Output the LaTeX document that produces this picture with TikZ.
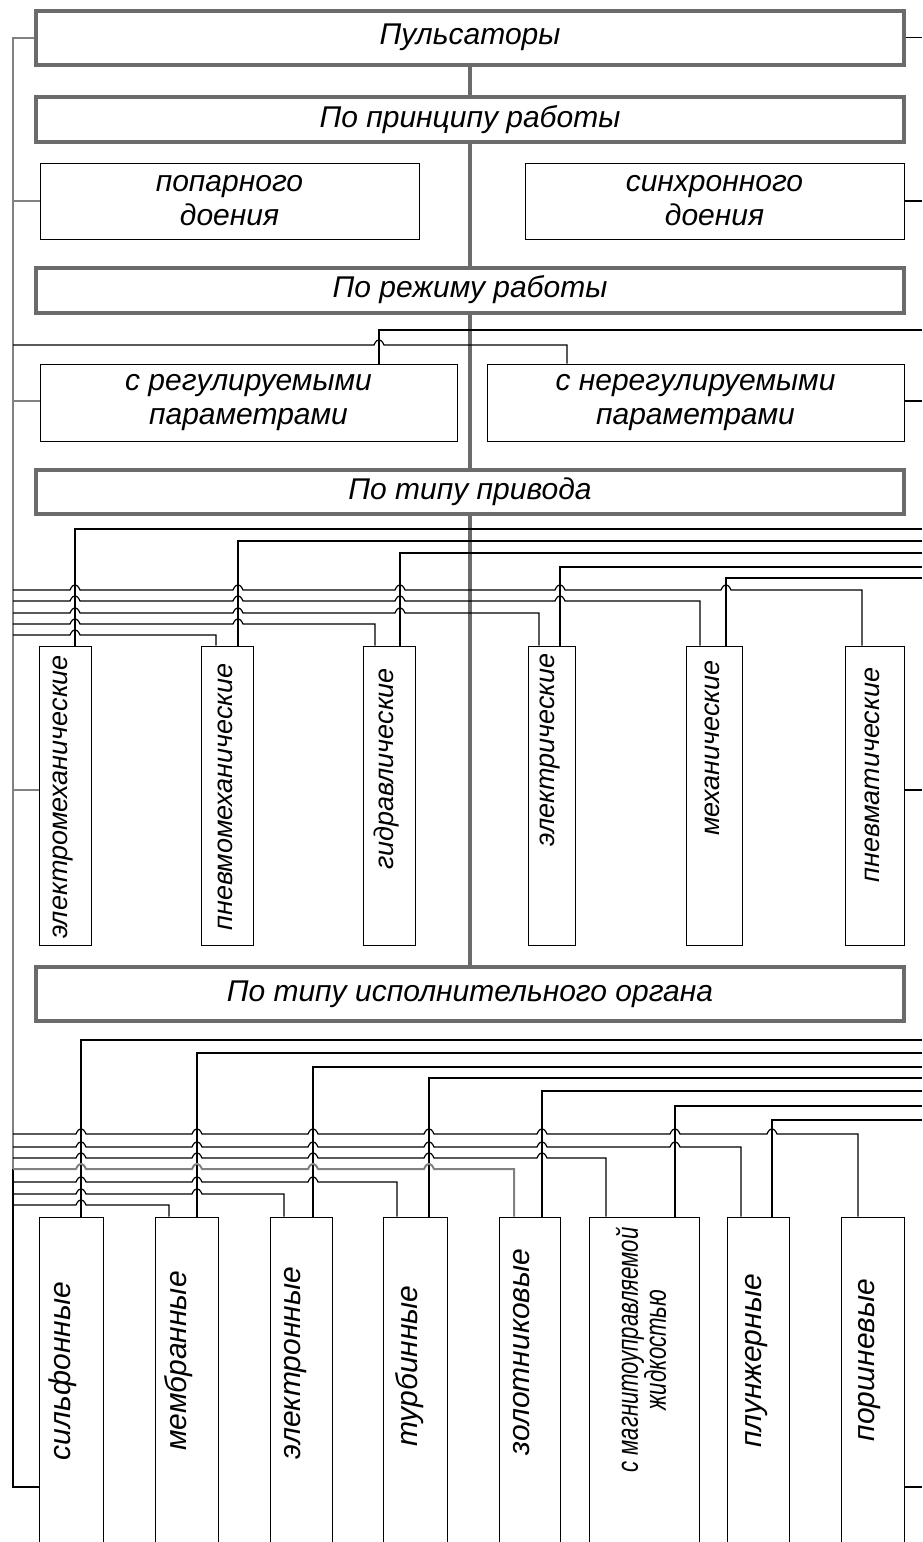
\documentclass[tikz,border=0pt]{standalone}
\usepackage{fontspec}
\setmainfont{Liberation Sans}
\newfontfamily\narrowfont{Liberation Sans}[FakeStretch=0.74]
\usepackage{tikz}

\definecolor{boxgray}{HTML}{6B6B6B}
% hop over a crossing wire: #1 = y, #2 = x of the crossings
\newcommand\hops[2]{\foreach \hx in {#2} { -- (\hx-5,#1) .. controls (\hx-2,#1-7) and (\hx+2,#1-7) .. (\hx+5,#1) }}

\begin{document}
\begin{tikzpicture}[
    x=0.5pt, y=-0.5pt,
    font=\fontsize{15pt}{17pt}\selectfont\itshape,
    head/.style={
      draw=boxgray,
      line width=2pt,
      fill=white,
      minimum width=434pt,
      inner sep=2pt
    },
    sub/.style={
      draw,
      line width=0.5pt,
      fill=white,
      align=center,
      inner sep=2pt
    },
    tall/.style={draw, line width=0.5pt, fill=white, inner sep=0pt},
    vtext/.style={rotate=90, inner sep=0pt},
    wire/.style={line width=0.6pt},
    rail/.style={draw=boxgray!85, line width=1pt},
    spine/.style={draw=boxgray, line width=2pt}
  ]
    \useasboundingbox (0,0) rectangle (922,1542);
    \clip (0,0) rectangle (922,1542);

    % headings
    \node[head, minimum height=27pt] (m1) at (470,37.5) {Пульсаторы};
    \node[head, minimum height=22.5pt] (m2) at (470,119.5) {По принципу работы};
    \node[head, minimum height=22.5pt] (m3) at (470,290) {По режиму работы};
    \node[head, minimum height=22pt] (m4) at (470,492) {По типу привода};
    \node[head, minimum height=27pt] (m5) at (470,994) {По типу исполнительного органа};

    % by principle
    \node[sub, minimum width=189.5pt, minimum height=38pt] (a1) at (229.5,201) {попарного\\доения};
    \node[sub, minimum width=189.5pt, minimum height=38pt] (a2) at (714.5,201) {синхронного\\доения};

    % by mode
    \node[sub, minimum width=208.5pt, minimum height=38.5pt] (r1) at (248.5,402.5) {с регулируемыми\\параметрами};
    \node[sub, minimum width=208.5pt, minimum height=38.5pt] (r2) at (695.5,402.5) {с нерегулируемыми\\параметрами};

    % by drive
    \node[tall, minimum width=26pt, minimum height=149.5pt] (p1) at (65,795.5) {};
    \node[tall, minimum width=26pt, minimum height=149.5pt] (p2) at (227,795.5) {};
    \node[tall, minimum width=26pt, minimum height=149.5pt] (p3) at (389,795.5) {};
    \node[tall, minimum width=23.5pt, minimum height=149.5pt] (p4) at (551.5,795.5) {};
    \node[tall, minimum width=28pt, minimum height=149.5pt] (p5) at (714,795.5) {};
    \node[tall, minimum width=29.5pt, minimum height=149.5pt] (p6) at (874.5,795.5) {};
    \begin{scope}[font=\fontsize{13.5pt}{16pt}\selectfont\itshape]
      \node[vtext] (p1t) at (63,797) {электромеханические};
      \node[vtext] (p2t) at (225,797) {пневмомеханические};
      \node[vtext] (p3t) at (387,769) {гидравлические};
      \node[vtext] (p4t) at (550,750) {электрические};
      \node[vtext] (p5t) at (712,748) {механические};
      \node[vtext] (p6t) at (872,775) {пневматические};
    \end{scope}

    % by actuator
    \node[tall, minimum width=32pt, minimum height=191.5pt] (d1) at (71,1408.5) {};
    \node[tall, minimum width=31.5pt, minimum height=191.5pt] (d2) at (186.5,1408.5) {};
    \node[tall, minimum width=31pt, minimum height=191.5pt] (d3) at (301,1408.5) {};
    \node[tall, minimum width=32pt, minimum height=191.5pt] (d4) at (415,1408.5) {};
    \node[tall, minimum width=30.5pt, minimum height=191.5pt] (d5) at (529.5,1408.5) {};
    \node[tall, minimum width=55pt, minimum height=191.5pt] (d6) at (644,1408.5) {};
    \node[tall, minimum width=31pt, minimum height=191.5pt] (d7) at (758,1408.5) {};
    \node[tall, minimum width=31.5pt, minimum height=191.5pt] (d8) at (872.5,1408.5) {};
    \node[vtext] (d1t) at (63,1371) {сильфонные};
    \node[vtext] (d2t) at (179,1361) {мембранные};
    \node[vtext] (d3t) at (296,1363) {электронные};
    \node[vtext] (d4t) at (410,1366) {турбинные};
    \node[vtext] (d5t) at (522,1352) {золотниковые};
    \node[vtext, align=center, font=\fontsize{15pt}{14pt}\selectfont\narrowfont\itshape] (d6t) at (641,1350) {с магнитоуправляемой\\жидкостью};
    \node[vtext] (d7t) at (757,1361) {плунжерные};
    \node[vtext] (d8t) at (870,1360) {поршневые};

    % spine
    \draw[spine] (m1) -- (m2);
    \draw[spine] (m2) -- (m3);
    \draw[spine] (m3) -- (m4);
    \draw[spine] (m4) -- (m5);

    % left rail and side stubs
    \draw[rail] (m1.west) -- (13,37.5) -- (13,1169);
    \draw[rail] (13,201) -- (a1.west);
    \draw[rail] (13,401) -- (r1.west |- 0,401);
    \draw[rail] (13,790) -- (p1.west |- 0,790);
    \draw[wire] (13,1169) |- (d1.west |- 0,1487);
    \draw[wire] (m1.east) -- (922,37.5);
    \draw[wire] (a2.east) -- (922,201);
    \draw[wire] (r2.east |- 0,401) -- (922,401);
    \draw[wire] (p6.east |- 0,790) -- (922,790);
    \draw[wire] (d8.east |- 0,1487) -- (922,1487);

    % mode wires
    \draw[wire] (922,330) -| (379,0 |- r1.north);
    \draw[wire] (13,345) \hops{345}{379} -| (567,0 |- r2.north);

    % drive wires
    \draw[wire] (922,529) -| (75,0 |- p1.north);
    \draw[wire] (922,541) -| (238,0 |- p2.north);
    \draw[wire] (922,553) -| (400,0 |- p3.north);
    \draw[wire] (922,567) -| (560,0 |- p4.north);
    \draw[wire] (922,578) -| (726,0 |- p5.north);
    \draw[wire] (13,590) \hops{590}{75,238,400,560,726} -| (862,0 |- p6.north);
    \draw[wire] (13,601) \hops{601}{75,238,400,560} -| (700,0 |- p5.north);
    \draw[wire] (13,613) \hops{613}{75,238,400} -| (539,0 |- p4.north);
    \draw[wire] (13,624) \hops{624}{75,238} -| (375,0 |- p3.north);
    \draw[wire] (13,635) \hops{635}{75} -| (216,0 |- p2.north);

    % actuator wires
    \draw[wire] (922,1040) -| (81,0 |- d1.north);
    \draw[wire] (922,1053) -| (197,0 |- d2.north);
    \draw[wire] (922,1067) -| (313,0 |- d3.north);
    \draw[wire] (922,1078) -| (429,0 |- d4.north);
    \draw[wire] (922,1091) -| (542,0 |- d5.north);
    \draw[wire] (922,1106) -| (675,0 |- d6.north);
    \draw[wire] (922,1120) -| (772,0 |- d7.north);
    \draw[wire] (13,1134) \hops{1134}{81,197,313,429,542,675,772} -| (858,0 |- d8.north);
    \draw[wire] (13,1147) \hops{1147}{81,197,313,429,542,675} -| (741,0 |- d7.north);
    \draw[wire] (13,1158) \hops{1158}{81,197,313,429,542} -| (606,0 |- d6.north);
    \draw[rail] (13,1169) \hops{1169}{81,197,313,429} -| (514,0 |- d5.north);
    \draw[wire] (13,1182) \hops{1182}{81,197,313} -| (397,0 |- d4.north);
    \draw[wire] (13,1194) \hops{1194}{81,197} -| (284,0 |- d3.north);
    \draw[wire] (13,1205) \hops{1205}{81} -| (169,0 |- d2.north);
  \end{tikzpicture}
\end{document}
